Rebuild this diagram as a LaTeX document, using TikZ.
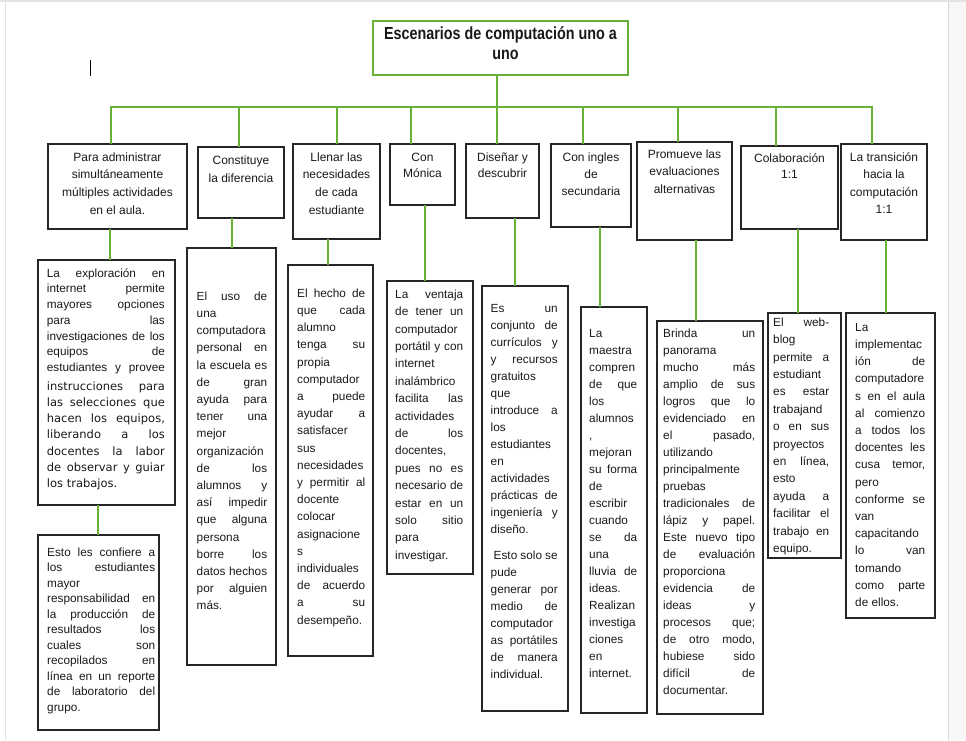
\documentclass[tikz,border=0pt]{standalone}
\usepackage{fontspec}
\setmainfont{Liberation Sans}
\newfontfamily\tahoma{DejaVu Sans}
\newfontfamily\narrowf[FakeStretch=0.82]{Liberation Sans Bold}
\newlength\tw
\newcommand\J[1]{\makebox[\tw][s]{#1}}
\newcommand\T[1]{{\tahoma\fontsize{11.5}{15}\selectfont\makebox[\tw][s]{#1}}}
\newcommand\st{\rule{0pt}{10pt}}
\definecolor{lgreen}{RGB}{104,176,56}
\definecolor{boxc}{RGB}{38,38,38}
\definecolor{txtc}{RGB}{25,25,25}
\hbadness=10000
\hfuzz=6pt
\begin{document}
\begin{tikzpicture}[x=1pt,y=-1pt,
  box/.style={draw=boxc, line width=1.1pt, inner sep=0pt, outer sep=0pt, anchor=north west},
  conn/.style={draw=lgreen, line width=2.2pt},
  body/.style={inner sep=0pt, anchor=north west, align=left, text=txtc},
  head/.style={inner sep=0pt, anchor=north, align=center, text=txtc},
  hf/.style={font=\fontsize{12}{#1}\selectfont},
  bf/.style={font=\fontsize{11.8}{#1}\selectfont}]
\useasboundingbox (0,0) rectangle (966,740);
% page edges
\fill[gray!6] (948,0) rectangle (966,740);
\draw[gray!30, line width=0.8pt] (948,0) -- (948,740);
\draw[gray!22, line width=2.5pt] (0,1.2) -- (966,1.2);
\draw[gray!22, line width=0.8pt] (5,2) -- (5,740);
% cursor
\draw[black, line width=1pt] (90.5,60) -- (90.5,76);

% title
\node[box, draw=lgreen, line width=1.5pt, minimum width=255pt, minimum height=54pt] (title) at (373,21) {};
\node[inner sep=0pt, anchor=north, align=center, text=txtc, font=\narrowf\fontsize{17.5}{20}\selectfont] (tt) at (500.5,25) {\rule{0pt}{14.5pt}Escenarios de computación uno a\\%
\hspace{10pt}uno};

% level 1 boxes
\node[box, minimum width=139pt, minimum height=85pt] (b1) at (48,144) {};
\node[box, minimum width=86pt, minimum height=71pt] (b2) at (198,147) {};
\node[box, minimum width=87pt, minimum height=95pt] (b3) at (293,144) {};
\node[box, minimum width=65pt, minimum height=61pt] (b4) at (390,144) {};
\node[box, minimum width=73pt, minimum height=74pt] (b5) at (466,144) {};
\node[box, minimum width=80pt, minimum height=83pt] (b6) at (551,144) {};
\node[box, minimum width=95pt, minimum height=98pt] (b7) at (637,142) {};
\node[box, minimum width=97pt, minimum height=83pt] (b8) at (741,146) {};
\node[box, minimum width=86pt, minimum height=96pt] (b9) at (841,144) {};

% level 2 boxes
\node[box, minimum width=137pt, minimum height=245pt] (c1) at (38,260) {};
\node[box, minimum width=89pt, minimum height=417pt] (c2) at (187,248) {};
\node[box, minimum width=85pt, minimum height=391pt] (c3) at (288,265) {};
\node[box, minimum width=86pt, minimum height=293pt] (c4) at (387,281) {};
\node[box, minimum width=86pt, minimum height=425pt] (c5) at (482,286) {};
\node[box, minimum width=66pt, minimum height=406pt] (c6) at (581,307) {};
\node[box, minimum width=106pt, minimum height=393pt] (c7) at (657,321) {};
\node[box, minimum width=73pt, minimum height=245pt] (c8) at (768,313) {};
\node[box, minimum width=89pt, minimum height=305pt] (c9) at (846,313) {};
\node[box, minimum width=121pt, minimum height=195pt] (d1) at (38,535) {};

% connectors
\coordinate (j1) at (111,107);
\coordinate (j2) at (239,107);
\coordinate (j3) at (337,107);
\coordinate (j4) at (411,107);
\coordinate (j5) at (497,107);
\coordinate (j6) at (583,107);
\coordinate (j7) at (678,107);
\coordinate (j8) at (776,107);
\coordinate (j9) at (872,107);
\draw[conn, line cap=rect] (j1) -- (j9);
\draw[conn] (j5 |- title.south) -- (j5);
\foreach \i in {1,...,9} {\draw[conn] (j\i) -- (j\i |- b\i.north);}
\coordinate (v1) at (110,0);
\coordinate (v2) at (232,0);
\coordinate (v3) at (328,0);
\coordinate (v4) at (425,0);
\coordinate (v5) at (515,0);
\coordinate (v6) at (600,0);
\coordinate (v7) at (696,0);
\coordinate (v8) at (798,0);
\coordinate (v9) at (886,0);
\coordinate (v10) at (98,0);
\foreach \i in {1,...,9} {\draw[conn] (v\i |- b\i.south) -- (v\i |- c\i.north);}
\draw[conn] (v10 |- c1.south) -- (v10 |- d1.north);

% level 1 texts
\node[head, hf=17.6] (tb1) at (117.5,151) {\st Para administrar\\%
simultáneamente\\%
múltiples actividades\\%
en el aula.};
\node[head, hf=17.6] (tb2) at (241,154.5) {\st Constituye\\%
la diferencia};
\node[head, hf=17.6] (tb3) at (336.5,151) {\st Llenar las\\%
necesidades\\%
de cada\\%
estudiante};
\node[head, hf=16.7] (tb4) at (422.5,151) {\st Con\\%
Mónica};
\node[head, hf=16.7] (tb5) at (502.5,151) {\st Diseñar y\\%
descubrir};
\node[head, hf=17] (tb6) at (591,151) {\st Con ingles\\%
de\\%
secundaria};
\node[head, hf=17.6] (tb7) at (684.5,148) {\st Promueve las\\%
evaluaciones\\%
alternativas};
\node[head, hf=16.7] (tb8) at (789.5,152) {\st Colaboración\\%
1:1};
\node[head, hf=17.5] (tb9) at (884,151) {\st La transición\\%
hacia la\\%
computación\\%
1:1};

% level 2 texts
\setlength\tw{118pt}
\node[body, bf=15.7] (tc1) at (46.7,267) {\st\J{La exploración en}\\%
\J{internet permite}\\%
\J{mayores opciones}\\%
\J{para las}\\%
\J{investigaciones de los}\\%
\J{equipos de}\\%
\J{estudiantes y provee}\\[3.1pt]%
\T{instrucciones para}\\[0.5pt]%
\T{las selecciones que}\\[0.5pt]%
\T{hacen los equipos,}\\[0.5pt]%
\T{liberando a los}\\[0.5pt]%
\T{docentes la labor}\\[0.5pt]%
\T{de observar y guiar}\\[0.5pt]%
{\tahoma\fontsize{11.5}{15}\selectfont los trabajos.}};

\setlength\tw{70.5pt}
\node[body, bf=17.2] (tc2) at (196.5,290) {\st\J{El uso de}\\%
una\\%
computadora\\%
\J{personal en}\\%
\J{la escuela es}\\%
\J{de gran}\\%
\J{ayuda para}\\%
\J{tener una}\\%
mejor\\%
organización\\%
\J{de los}\\%
\J{alumnos y}\\%
\J{así impedir}\\%
\J{que alguna}\\%
persona\\%
\J{borre los}\\%
\J{datos hechos}\\%
\J{por alguien}\\%
más.};

\setlength\tw{68pt}
\node[body, bf=17.2] (tc3) at (297,287) {\st\J{El hecho de}\\%
\J{que cada}\\%
alumno\\%
\J{tenga su}\\%
propia\\%
computador\\%
\J{a puede}\\%
\J{ayudar a}\\%
satisfacer\\%
sus\\%
necesidades\\%
\J{y permitir al}\\%
docente\\%
colocar\\%
asignacione\\%
s\\%
individuales\\%
\J{de acuerdo}\\%
\J{a su}\\%
desempeño.};

\setlength\tw{68pt}
\node[body, bf=17.4] (tc4) at (395,288) {\st\J{La ventaja}\\%
\J{de tener un}\\%
computador\\%
\J{portátil y con}\\%
internet\\%
inalámbrico\\%
\J{facilita las}\\%
actividades\\%
\J{de los}\\%
docentes,\\%
\J{pues no es}\\%
\J{necesario de}\\%
\J{estar en un}\\%
\J{solo sitio}\\%
para\\%
investigar.};

\setlength\tw{67pt}
\node[body, bf=17] (tc5) at (490.5,302) {\st\J{Es un}\\%
\J{conjunto de}\\%
\J{currículos y}\\%
\J{y recursos}\\%
gratuitos\\%
que\\%
\J{introduce a}\\%
los\\%
estudiantes\\%
en\\%
actividades\\%
\J{prácticas de}\\%
\J{ingeniería y}\\%
diseño.\\[9pt]%
\J{\hspace{3pt}Esto solo se}\\%
pude\\%
\J{generar por}\\%
\J{medio de}\\%
computador\\%
\J{as portátiles}\\%
\J{de manera}\\%
individual.};

\setlength\tw{48pt}
\node[body, bf=17] (tc6) at (589,327) {\st La\\%
maestra\\%
compren\\%
\J{de que}\\%
los\\%
alumnos\\%
,\\%
mejoran\\%
\J{su forma}\\%
de\\%
escribir\\%
cuando\\%
\J{se da}\\%
una\\%
\J{lluvia de}\\%
ideas.\\%
Realizan\\%
investiga\\%
ciones\\%
en\\%
internet.};

\setlength\tw{92pt}
\node[body, bf=17] (tc7) at (663,327) {\st\J{Brinda un}\\%
panorama\\%
\J{mucho más}\\%
\J{amplio de sus}\\%
\J{logros que lo}\\%
\J{evidenciado en}\\%
\J{el pasado,}\\%
utilizando\\%
principalmente\\%
pruebas\\%
\J{tradicionales de}\\%
\J{lápiz y papel.}\\%
\J{Este nuevo tipo}\\%
\J{de evaluación}\\%
proporciona\\%
\J{evidencia de}\\%
\J{ideas y}\\%
\J{procesos que;}\\%
\J{de otro modo,}\\%
\J{hubiese sido}\\%
\J{difícil de}\\%
documentar.};

\setlength\tw{56pt}
\node[body, bf=17.4] (tc8) at (773,316) {\st\J{El web-}\\%
blog\\%
\J{permite a}\\%
estudiant\\%
\J{es estar}\\%
trabajand\\%
\J{o en sus}\\%
proyectos\\%
\J{en línea,}\\%
esto\\%
\J{ayuda a}\\%
\J{facilitar el}\\%
\J{trabajo en}\\%
equipo.};

\setlength\tw{70pt}
\node[body, bf=17.2] (tc9) at (855,321) {\st La\\%
implementac\\%
\J{ión de}\\%
computadore\\%
\J{s en el aula}\\%
\J{al comienzo}\\%
\J{a todos los}\\%
\J{docentes les}\\%
\J{cusa temor,}\\%
pero\\%
\J{conforme se}\\%
van\\%
capacitando\\%
\J{lo van}\\%
tomando\\%
\J{como parte}\\%
de ellos.};

\setlength\tw{108pt}
\node[body, bf=15.5] (td1) at (47,546) {\st\J{Esto les confiere a}\\%
\J{los estudiantes}\\%
mayor\\%
\J{responsabilidad en}\\%
\J{la producción de}\\%
\J{resultados los}\\%
\J{cuales son}\\%
\J{recopilados en}\\%
\J{línea en un reporte}\\%
\J{de laboratorio del}\\%
grupo.};
\end{tikzpicture}
\end{document}
